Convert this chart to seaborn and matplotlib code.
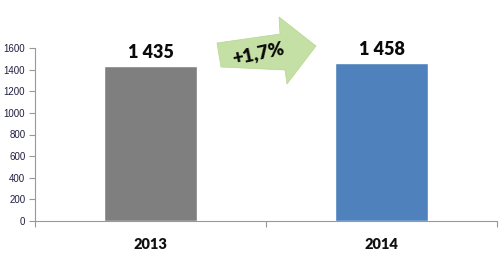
import matplotlib
matplotlib.use("Agg")
import matplotlib.pyplot as plt
import seaborn as sns
import pandas as pd
from matplotlib.patches import Polygon

years = ["2013", "2014"]
values = [1435, 1458]
value_labels = ["1 435", "1 458"]
colors = ["#7f7f7f", "#4f81bd"]
growth_label = "+1,7%"
yticks = [0, 200, 400, 600, 800, 1000, 1200, 1400, 1600]

sns.set_theme(style="white")
plt.rcParams['font.family'] = ['Lato', 'DejaVu Sans']

fig = plt.figure(figsize=(5, 2.75), dpi=100)
ax = fig.add_axes([35/500, 1 - 221/275, 462/500, 173/275])

df = pd.DataFrame({"year": years, "value": values})
sns.barplot(data=df, x="year", y="value", hue="year", palette=colors,
            width=0.4, ax=ax, legend=False, saturation=1)

ax.set_xlim(-0.5, 1.5)
ax.set_ylim(0, 1600)
ax.set_yticks(yticks)
ax.set_yticklabels([str(t) for t in yticks], fontsize=7, color="#1f1f3f",
                   family=['Liberation Sans', 'DejaVu Sans'])
ax.set_xticks([-0.5, 0.5, 1.5])
ax.set_xticklabels([])
ax.set_xticks([0, 1], minor=True)
ax.set_xticklabels(years, minor=True, fontsize=10.5, fontweight="heavy", color="#111111")
ax.tick_params(axis="x", which="minor", length=0, pad=12)
ax.tick_params(axis="x", which="major", length=4, direction="out", color="#999999", width=0.8, bottom=True)
ax.tick_params(axis="y", length=4, direction="out", color="#999999", width=0.8, left=True, pad=3)
ax.set_xlabel("")
ax.set_ylabel("")
for s in ["top", "right"]:
    ax.spines[s].set_visible(False)
for s in ["left", "bottom"]:
    ax.spines[s].set_color("#999999")
    ax.spines[s].set_linewidth(0.8)

for i, (v, lab) in enumerate(zip(values, value_labels)):
    ax.text(i, v + 74, lab, ha="center", va="baseline", fontsize=13,
            fontweight="heavy", color="#0a0a0a")

# green arrow (figure pixel coords, y from top)
pts_px = [(217, 43), (280, 34), (279, 17), (316, 46), (287, 84), (285, 70), (221, 67)]
pts = [(x/500, 1 - y/275) for x, y in pts_px]
arrow = Polygon(pts, closed=True, transform=fig.transFigure,
                facecolor="#c5e0a5", edgecolor="#b5d690", linewidth=0.5)
fig.patches.append(arrow)
fig.text(258/500, 1 - 53/275, growth_label, ha="center", va="center",
         fontsize=13.5, fontweight="heavy", rotation=12, color="#0a0a0a")

fig.savefig("out.png", dpi=100, facecolor="white")
